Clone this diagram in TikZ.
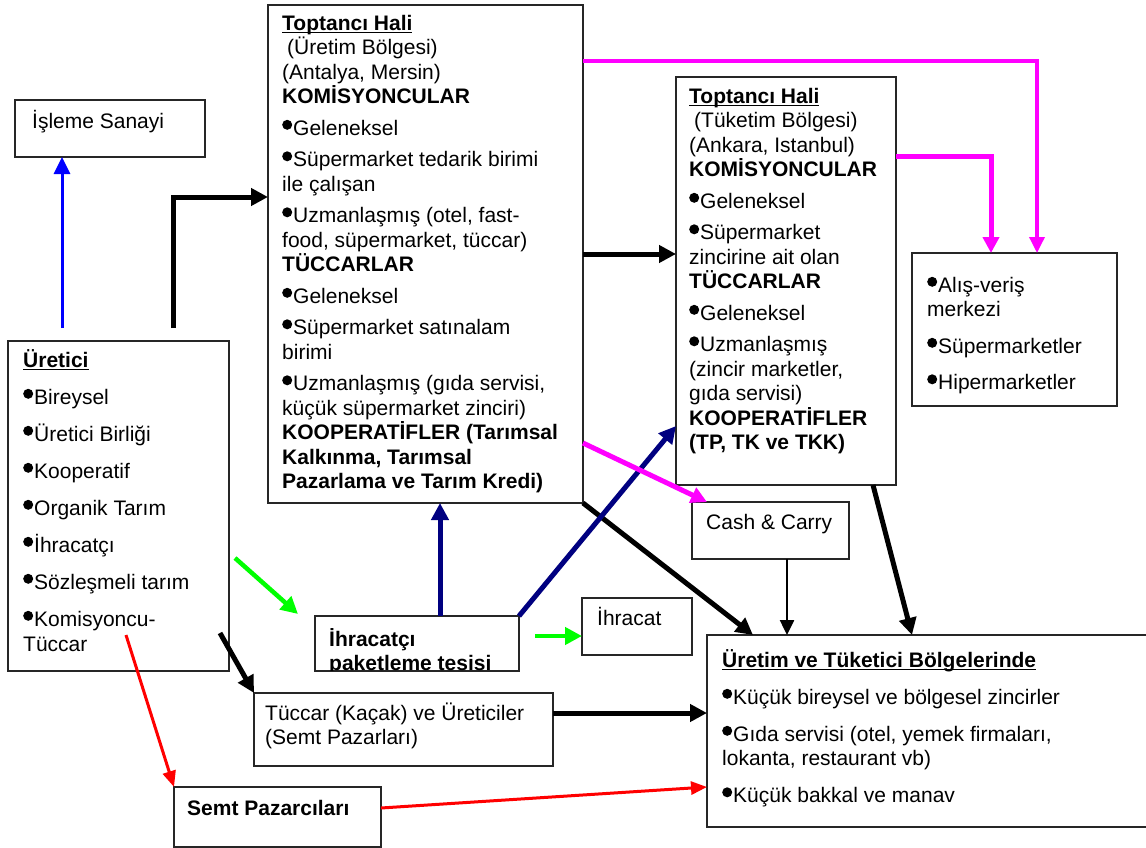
\documentclass[tikz,border=0pt]{standalone}
\usepackage{fontspec}
\setmainfont{Liberation Sans}
\usetikzlibrary{arrows.meta}
\newcommand\fsz{\fontsize{21}{24.5}\selectfont}
\newcommand\bl{\tikz[baseline=0pt]\fill (5pt,10.4pt) circle (5pt);\hspace{1pt}}
\newcommand\myul[1]{\setbox0=\hbox{#1}\rlap{\rule[-3pt]{\wd0}{1.7pt}}\box0}
\newcommand\tp{\rule{0pt}{20pt}}
\definecolor{mag}{RGB}{255,0,255}
\definecolor{grn}{RGB}{0,255,0}
\definecolor{rd}{RGB}{255,0,0}
\definecolor{bl}{RGB}{0,0,255}
\definecolor{nv}{RGB}{0,0,128}
\begin{document}
\begin{tikzpicture}[x=1pt,y=-1pt,
  bx/.style={draw=black!85, line width=1.4pt, anchor=north west, inner sep=0pt, outer sep=0pt},
  tx/.style={anchor=north west, inner sep=0pt, align=left, font=\fsz},
  thk/.style={line width=5pt, -{Triangle[length=17pt,width=17pt]}},
  thn/.style={line width=2.5pt, -{Triangle[length=15pt,width=14pt]}},
  magl/.style={draw=mag, line width=5pt, -{Triangle[length=16pt,width=16pt]}},
  magt/.style={draw=mag, line width=3.5pt, -{Triangle[length=16pt,width=15pt]}},
  grnl/.style={draw=grn, line width=4.5pt, -{Triangle[length=17pt,width=17pt]}},
  redl/.style={draw=rd, line width=3pt, -{Triangle[length=16pt,width=13pt]}},
  bluel/.style={draw=bl, line width=3pt, -{Triangle[length=17pt,width=16pt]}},
  navl/.style={draw=nv, line width=5pt, -{Triangle[length=17pt,width=17pt]}}
]
\fill[white] (0,0) rectangle (1146,848);
\useasboundingbox (0,0) rectangle (1146,848);

% boxes
\node[bx, minimum width=190pt, minimum height=57pt] (isl) at (15,100) {};
\node[bx, minimum width=221pt, minimum height=330pt] (pr) at (8,341) {};
\node[bx, minimum width=315pt, minimum height=498pt] (t1) at (268,5) {};
\node[bx, minimum width=220pt, minimum height=408pt] (t2) at (676,77) {};
\node[bx, minimum width=205pt, minimum height=153pt] (dd) at (912,253) {};
\node[bx, minimum width=157pt, minimum height=57pt] (cc) at (692,502) {};
\node[bx, minimum width=110pt, minimum height=57pt] (ihr) at (582,598) {};
\node[bx, minimum width=204pt, minimum height=55pt] (ih) at (315,616) {};
\node[bx, minimum width=299pt, minimum height=73pt] (tc) at (254,693) {};
\node[bx, minimum width=207pt, minimum height=60pt] (sp) at (174,787) {};
\node[bx, minimum width=460pt, minimum height=192pt] (ut) at (707,635) {};

% texts
\node[tx] (islt) at (32,108) {\tp İşleme Sanayi};
\node[tx, font=\fontsize{21}{25}\selectfont] (prt) at (23,347) {\tp\myul{\bfseries Üretici}\\[12pt]
\bl Bireysel\\[12pt]
\bl Üretici Birliği\\[12pt]
\bl Kooperatif\\[12pt]
\bl Organik Tarım\\[12pt]
\bl İhracatçı\\[12pt]
\bl Sözleşmeli tarım\\[12pt]
\bl Komisyoncu-\\
Tüccar};
\node[tx] (t1t) at (282,10) {\tp\myul{\bfseries Toptancı Hali}\\
\hspace*{5pt}(Üretim Bölgesi)\\
(Antalya, Mersin)\\
{\bfseries KOMİSYONCULAR}\\[7pt]
\bl Geleneksel\\[7pt]
\bl Süpermarket tedarik birimi\\
ile çalışan\\[7pt]
\bl Uzmanlaşmış (otel, fast-\\
food, süpermarket, tüccar)\\
{\bfseries TÜCCARLAR}\\[7pt]
\bl Geleneksel\\[7pt]
\bl Süpermarket satınalam\\
birimi\\[7pt]
\bl Uzmanlaşmış (gıda servisi,\\
küçük süpermarket zinciri)\\
{\bfseries KOOPERATİFLER (Tarımsal}\\
{\bfseries Kalkınma, Tarımsal}\\
{\bfseries Pazarlama ve Tarım Kredi)}};
\node[tx] (t2t) at (689,83) {\tp\myul{\bfseries Toptancı Hali}\\
\hspace*{5pt}(Tüketim Bölgesi)\\
(Ankara, Istanbul)\\
{\bfseries KOMİSYONCULAR}\\[7pt]
\bl Geleneksel\\[7pt]
\bl Süpermarket\\
zincirine ait olan\\
{\bfseries TÜCCARLAR}\\[7pt]
\bl Geleneksel\\[7pt]
\bl Uzmanlaşmış\\
(zincir marketler,\\
gıda servisi)\\
{\bfseries KOOPERATİFLER}\\
{\bfseries (TP, TK ve TKK)}};
\node[tx] (ddt) at (927,272) {\tp\bl Alış-veriş\\
merkezi\\[12pt]
\bl Süpermarketler\\[12pt]
\bl Hipermarketler};
\node[tx] (cct) at (706,509) {\tp Cash \& Carry};
\node[tx] (ihrt) at (597,605) {\tp İhracat};
\begin{scope}
\clip (315,616) rectangle (519,670);
\node[tx] (iht) at (329,626) {\tp{\bfseries İhracatçı}\\{\bfseries paketleme tesisi}};
\end{scope}
\node[tx] (tct) at (265,700) {\tp Tüccar (Kaçak) ve Üreticiler\\(Semt Pazarları)};
\node[tx] (spt) at (187,795) {\tp{\bfseries Semt Pazarcıları}};
\node[tx] (utt) at (722,647) {\tp\myul{\bfseries Üretim ve Tüketici Bölgelerinde}\\[12.5pt]
\bl Küçük bireysel ve bölgesel zincirler\\[12.5pt]
\bl Gıda servisi (otel, yemek firmaları,\\
lokanta, restaurant vb)\\[12.5pt]
\bl Küçük bakkal ve manav};

% free ends
\coordinate (bs) at (62,328);
\coordinate (es) at (173,328);
\coordinate (gs) at (235,558);
\coordinate (ge) at (298,614);
\coordinate (g2) at (535,636);
\coordinate (ks) at (220,633);
\coordinate (rs) at (126,635);

% connectors
\draw[bluel] (bs) -- (bs |- isl.south);
\draw[thk] (es) |- (t1.west |- 0,197);
\draw[magt] (t1.east |- 0,61) -| (dd.north -| 1037,0);
\draw[magl] (t2.east |- 0,157) -| (dd.north -| 991,0);
\draw[thk] (t1.east |- 0,254) -- (t2.west |- 0,254);
\draw[thk] (t1.south east) -- (ut.north -| 753,0);
\draw[thn] (cc.south -| 787,0) -- (ut.north -| 787,0);
\draw[thk] (t2.south -| 873,0) -- (ut.north -| 912,0);
\draw[navl] (ih.north -| 440,0) -- (t1.south -| 440,0);
\draw[navl] (ih.north east) -- (t2.west |- 0,426);
\draw[magl] (t1.east |- 0,443) -- (cc.north -| 707,0);
\draw[grnl] (gs) -- (ge);
\draw[grnl] (g2) -- (ihr.west |- 0,636);
\draw[thk] (ks) -- (tc.north west);
\draw[redl] (rs) -- (sp.north west);
\draw[redl] (sp.east |- 0,808) -- (ut.west |- 0,787);
\draw[thk] (tc.east |- 0,713) -- (ut.west |- 0,713);
\end{tikzpicture}
\end{document}
